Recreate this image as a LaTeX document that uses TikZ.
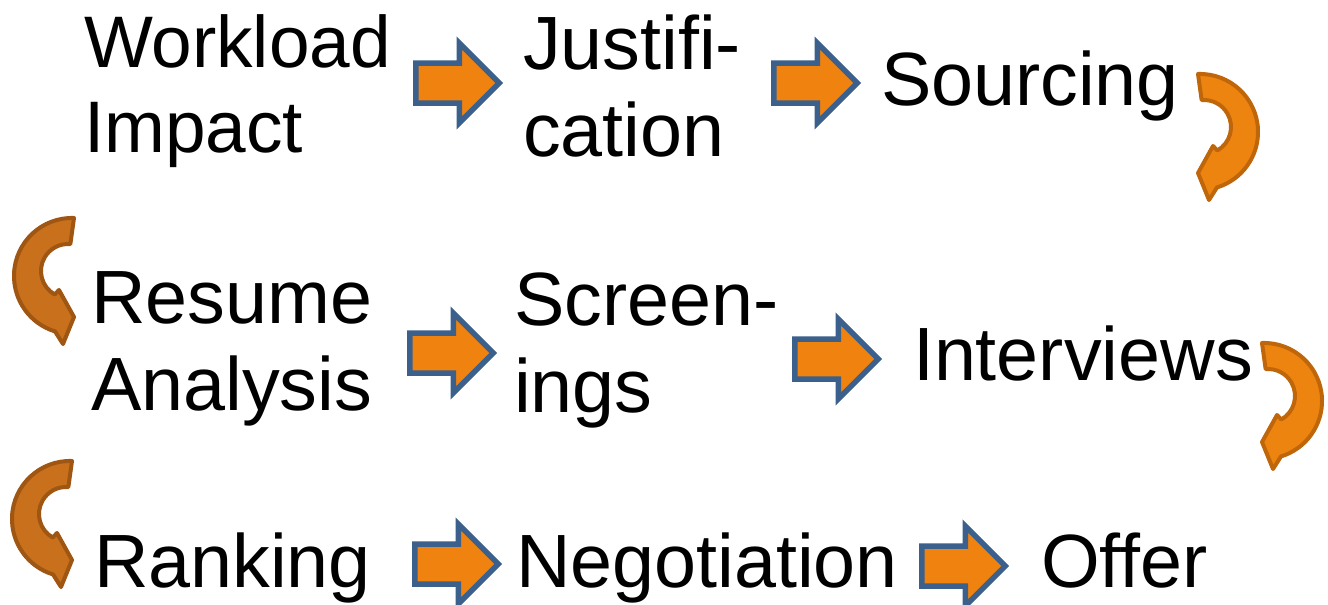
\documentclass[tikz,border=0pt]{standalone}
\usepackage{fontspec}
\setmainfont{Liberation Sans}
\usetikzlibrary{shapes.arrows}
\definecolor{arroworange}{RGB}{240,130,15}
\definecolor{arrowblue}{RGB}{60,96,140}
\definecolor{curvefill}{RGB}{238,132,16}
\definecolor{curveline}{RGB}{192,102,10}
\definecolor{darkfill}{RGB}{200,112,28}
\definecolor{darkline}{RGB}{158,86,18}
\tikzset{
  label text/.style={anchor=base west, align=left, inner sep=0pt, outer sep=0pt,
    font=\fontsize{75.5}{87}\selectfont},
  blockarrow/.style={single arrow, draw=arrowblue, fill=arroworange, line width=5.5pt,
    minimum height=83.5pt, single arrow head extend=20pt, inner xsep=0pt, inner ysep=17.25pt,
    minimum width=0pt, outer sep=0pt, anchor=tail},
  curveR/.style={draw=curveline, fill=curvefill, line width=4pt, line join=round, yscale=-1},
  curveL/.style={draw=darkline, fill=darkfill, line width=4pt, line join=round, yscale=-1, xscale=-1},
  curvearrow/.pic={
    \draw[pic actions] (0,-1) arc[start angle=-92, end angle=73, radius=58]
      -- (11,125) -- (0,98) -- (15,71) -- (19.3,75.5)
      arc[start angle=60.5, end angle=-95, radius=27] -- cycle;
  }
}
\begin{document}
\begin{tikzpicture}[x=1pt, y=1pt, yscale=-1]
\path[use as bounding box] (0,0) rectangle (1328,605);
% row 1
\node[label text, font=\fontsize{73}{85}\selectfont] (t1) at (84,152) {Workload\\Impact};
\node[blockarrow] (a1) at (415.75,83) {};
\node[label text] (t2) at (523,156) {Justifi-\\cation};
\node[blockarrow] (a2) at (773.75,83) {};
\node[label text] (t3) at (881,105) {Sourcing};
\pic (c1) [curveR] at (1198,75) {curvearrow};
% row 2
\pic (c2) [curveL] at (74,219) {curvearrow};
\node[label text] (t4) at (91,410) {Resume\\Analysis};
\node[blockarrow] (a3) at (409.75,353) {};
\node[label text] (t5) at (514,412) {Screen-\\ings};
\node[blockarrow] (a4) at (794.75,359) {};
\node[label text] (t6) at (913,380) {Interviews};
\pic (c3) [curveR] at (1262,344) {curvearrow};
% row 3
\pic (c4) [curveL] at (72,462) {curvearrow};
\node[label text] (t7) at (94,587) {Ranking};
\node[blockarrow] (a5) at (414.75,564) {};
\node[label text] (t8) at (516,587) {Negotiation};
\node[blockarrow] (a6) at (921.75,566) {};
\node[label text] (t9) at (1041,587) {Offer};
\end{tikzpicture}
\end{document}
